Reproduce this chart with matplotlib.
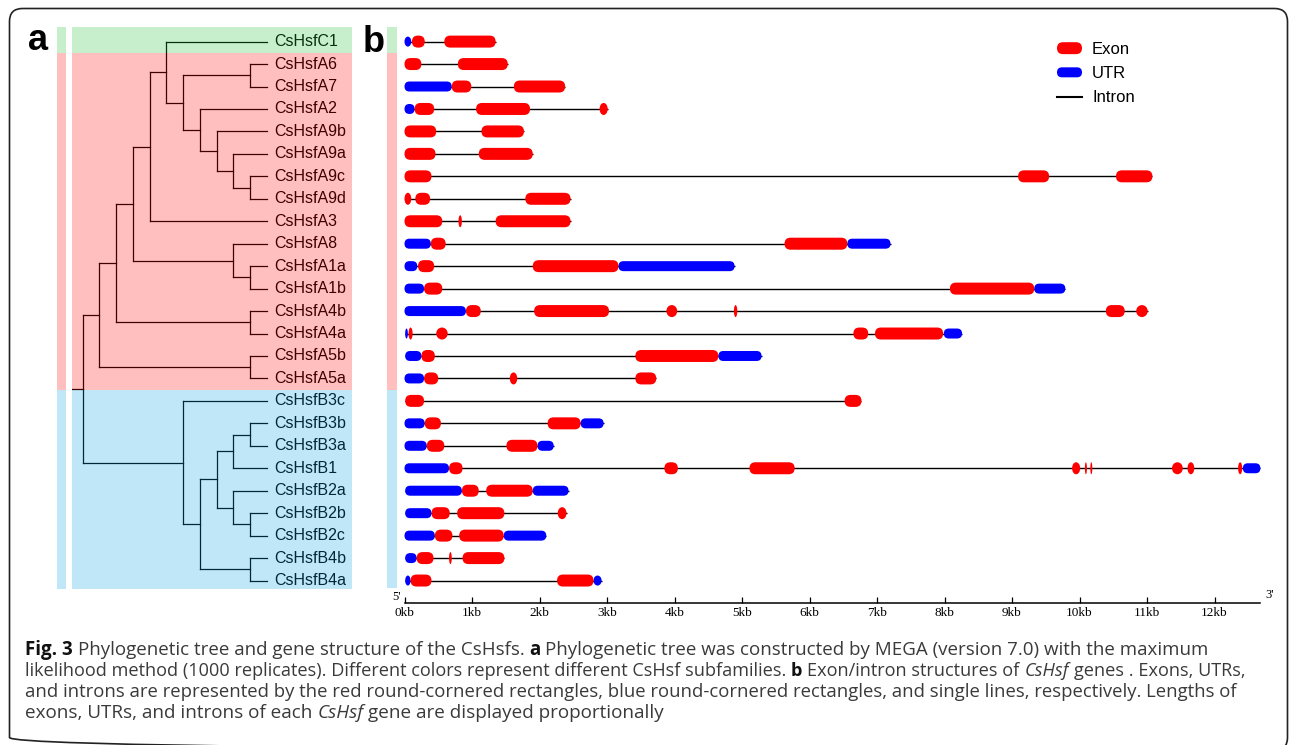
import matplotlib
matplotlib.use("Agg")
import matplotlib.pyplot as plt
from matplotlib.patches import FancyBboxPatch, Ellipse, Patch
from matplotlib.lines import Line2D
from matplotlib.legend_handler import HandlerPatch

# ---- data -------------------------------------------------------------
# tree topology (tips in drawing order follow from it)
tree = (
    (((((("CsHsfC1", (("CsHsfA6", "CsHsfA7"),
                      ("CsHsfA2", ("CsHsfA9b", ("CsHsfA9a", ("CsHsfA9c", "CsHsfA9d")))))),
          "CsHsfA3"),
         ("CsHsfA8", ("CsHsfA1a", "CsHsfA1b"))),
        ("CsHsfA4b", "CsHsfA4a")),
       ("CsHsfA5b", "CsHsfA5a"))),
    ("CsHsfB3c", (((("CsHsfB3b", "CsHsfB3a"), "CsHsfB1"),
                   ("CsHsfB2a", ("CsHsfB2b", "CsHsfB2c"))),
                  ("CsHsfB4b", "CsHsfB4a"))),
)

genes = ["CsHsfC1", "CsHsfA6", "CsHsfA7", "CsHsfA2", "CsHsfA9b", "CsHsfA9a",
         "CsHsfA9c", "CsHsfA9d", "CsHsfA3", "CsHsfA8", "CsHsfA1a", "CsHsfA1b",
         "CsHsfA4b", "CsHsfA4a", "CsHsfA5b", "CsHsfA5a", "CsHsfB3c", "CsHsfB3b",
         "CsHsfB3a", "CsHsfB1", "CsHsfB2a", "CsHsfB2b", "CsHsfB2c", "CsHsfB4b",
         "CsHsfB4a"]

group_sizes = [1, 15, 9]          # C, A, B subfamilies
band_colors = ["#23c337", "#ff0000", "#00a3e3"]

# exon / UTR positions in kb
exons = [
    [(0.11, 0.30), (0.59, 1.35)],
    [(0.0, 0.25), (0.79, 1.53)],
    [(0.70, 0.99), (1.62, 2.38)],
    [(0.15, 0.44), (1.06, 1.86), (2.89, 3.01)],
    [(0.0, 0.47), (1.14, 1.77)],
    [(0.0, 0.46), (1.10, 1.90)],
    [(0.0, 0.40), (9.09, 9.55), (10.54, 11.08)],
    [(0.0, 0.10), (0.16, 0.38), (1.79, 2.46)],
    [(0.0, 0.56), (0.80, 0.85), (1.35, 2.46)],
    [(0.39, 0.61), (5.63, 6.56)],
    [(0.20, 0.44), (1.90, 3.17)],
    [(0.29, 0.56), (8.08, 9.33)],
    [(0.91, 1.13), (1.92, 3.03), (3.88, 4.04), (4.88, 4.93), (10.39, 10.67), (10.84, 11.01)],
    [(0.06, 0.12), (0.47, 0.64), (6.65, 6.87), (6.97, 7.98)],
    [(0.25, 0.45), (3.42, 4.65)],
    [(0.29, 0.50), (1.56, 1.67), (3.42, 3.73)],
    [(0.01, 0.29), (6.52, 6.77)],
    [(0.30, 0.54), (2.12, 2.61)],
    [(0.33, 0.59), (1.51, 1.97)],
    [(0.66, 0.86), (3.85, 4.05), (5.11, 5.78), (9.89, 10.01), (10.08, 10.11),
     (10.16, 10.19), (11.37, 11.53), (11.60, 11.70), (12.35, 12.41)],
    [(0.85, 1.10), (1.21, 1.90)],
    [(0.40, 0.67), (0.78, 1.48), (2.27, 2.40)],
    [(0.45, 0.71), (0.81, 1.47)],
    [(0.18, 0.43), (0.66, 0.70), (0.86, 1.48)],
    [(0.09, 0.40), (2.26, 2.80)],
]
utrs = [
    [(0.0, 0.10)],
    [],
    [(0.0, 0.70)],
    [(0.0, 0.15)],
    [], [], [], [], [],
    [(0.0, 0.39), (6.56, 7.20)],
    [(0.0, 0.19), (3.17, 4.89)],
    [(0.0, 0.29), (9.33, 9.79)],
    [(0.0, 0.91)],
    [(0.01, 0.05), (7.99, 8.26)],
    [(0.01, 0.25), (4.65, 5.29)],
    [(0.0, 0.29)],
    [],
    [(0.0, 0.30), (2.61, 2.95)],
    [(0.0, 0.33), (1.97, 2.21)],
    [(0.0, 0.66), (12.42, 12.68)],
    [(0.01, 0.85), (1.90, 2.43)],
    [(0.01, 0.40)],
    [(0.0, 0.45), (1.47, 2.10)],
    [(0.01, 0.18)],
    [(0.01, 0.09), (2.80, 2.92)],
]
kb_ticks = list(range(13))
scale_end = 12.67

caption = [
    [("Fig. 3", "bold", "normal"), (" Phylogenetic tree and gene structure of the CsHsfs. ", "normal", "normal"),
     ("a", "bold", "normal"), (" Phylogenetic tree was constructed by MEGA (version 7.0) with the maximum", "normal", "normal")],
    [("likelihood method (1000 replicates). Different colors represent different CsHsf subfamilies. ", "normal", "normal"),
     ("b", "bold", "normal"), (" Exon/intron structures of ", "normal", "normal"), ("CsHsf", "normal", "italic"),
     (" genes . Exons, UTRs,", "normal", "normal")],
    [("and introns are represented by the red round-cornered rectangles, blue round-cornered rectangles, and single lines, respectively. Lengths of", "normal", "normal")],
    [("exons, UTRs, and introns of each ", "normal", "normal"), ("CsHsf", "normal", "italic"),
     (" gene are displayed proportionally", "normal", "normal")],
]
caption_ends = [1208, 1243, 1225, 660]

# ---- layout -----------------------------------------------------------
W, H = 1290, 745
fig = plt.figure(figsize=(W / 100, H / 100), dpi=100)
renderer = fig.canvas.get_renderer()

ROW_PX = 22.456
KB_PX = 67.5
TOP_ROW = -0.65
SANS = ["Liberation Sans", "DejaVu Sans"]


def px_axes(x0, y0, x1, y1):
    ax = fig.add_axes([x0 / W, 1 - y1 / H, (x1 - x0) / W, (y1 - y0) / H])
    ax.set_ylim(TOP_ROW + (y1 - y0) / ROW_PX, TOP_ROW)
    return ax


def draw_bands(ax):
    bottom, top = ax.get_ylim()
    start = 0
    n = sum(group_sizes)
    for size, c in zip(group_sizes, band_colors):
        y0 = top if start == 0 else start - 0.5
        y1 = bottom if start + size == n else start + size - 0.5
        ax.axhspan(y0, y1, color=c, alpha=0.25, lw=0, zorder=5)
        start += size


# overlay in pixel units for frame / panel letters / caption
over = fig.add_axes([0, 0, 1, 1])
over.set_xlim(0, W)
over.set_ylim(H, 0)
over.axis("off")
over.add_patch(FancyBboxPatch((9.5, 8.5), 1278, 742, boxstyle="round,pad=0,rounding_size=13",
                              fill=False, ec="#222222", lw=1.2, clip_on=True))
over.text(38, 41, "a", fontsize=26, fontweight="bold", family=SANS, ha="center", va="center")
over.text(374, 43, "b", fontsize=26, fontweight="bold", family=SANS, ha="center", va="center")
over.text(396.5, 597, "5'", fontsize=9, family="Liberation Serif", ha="center", va="center")
over.text(1270, 595, "3'", fontsize=9, family="Liberation Serif", ha="center", va="center")

# ---- panel a: tree ----------------------------------------------------
ax_t = px_axes(72, 27, 352, 589)
ax_t.set_xlim(-0.64, 16.10)
ax_t.axis("off")

tip_level = 11
tips = []


def height(node):
    if isinstance(node, str):
        return 0
    return 1 + max(height(c) for c in node)


def layout(node):
    if isinstance(node, str):
        tips.append(node)
        return tip_level, len(tips) - 1
    pts = [layout(c) for c in node]
    x = tip_level - height(node)
    ys = [p[1] for p in pts]
    ax_t.plot([x, x], [min(ys), max(ys)], color="black", lw=0.9, zorder=1)
    for cx, cy in pts:
        ax_t.plot([x, cx], [cy, cy], color="black", lw=0.9, zorder=1)
    return x, (min(ys) + max(ys)) / 2


root_x, root_y = layout(tree)
ax_t.plot([ax_t.get_xlim()[0], root_x], [root_y, root_y], color="black", lw=0.9, zorder=1)
for i, name in enumerate(tips):
    ax_t.annotate(name, (tip_level, i), xytext=(5.2, 0), textcoords="offset points",
                  va="center", ha="left", fontsize=11.5, family=SANS, zorder=2)
draw_bands(ax_t)

ax_s = px_axes(57, 27, 65.7, 589)
ax_s.set_xlim(0, 1)
ax_s.axis("off")
draw_bands(ax_s)

ax_s2 = px_axes(387, 27, 396.7, 588)
ax_s2.set_xlim(0, 1)
ax_s2.axis("off")
draw_bands(ax_s2)

# ---- panel b: gene structures -----------------------------------------
x_left, x_right, zero_px = 398, 1285, 404.5
ax_g = px_axes(x_left, 27, x_right, 603)
ax_g.set_xlim((x_left - zero_px) / KB_PX, (x_right - zero_px) / KB_PX)
aspect = KB_PX / ROW_PX


def draw_part(a, b, row, h_px, color):
    w = b - a
    r = h_px / 2 / KB_PX
    h = h_px / ROW_PX
    if w <= 2 * r:
        ax_g.add_patch(Ellipse(((a + b) / 2, row), w, h, fc=color, ec="none", zorder=3))
    else:
        ax_g.add_patch(FancyBboxPatch((a, row - h / 2), w, h,
                                      boxstyle=f"round,pad=0,rounding_size={r}",
                                      mutation_aspect=aspect, fc=color, ec="none", zorder=3))


for row, (ex, ut) in enumerate(zip(exons, utrs)):
    parts = ex + ut
    start = min(p[0] for p in parts)
    end = max(p[1] for p in parts)
    ax_g.plot([start, end], [row, row], color="black", lw=1.0, zorder=2, solid_capstyle="butt")
    for a, b in ut:
        draw_part(a, b, row, 10, "#0000ff")
    for a, b in ex:
        draw_part(a, b, row, 12, "#ff0000")

for s in ["top", "left", "right"]:
    ax_g.spines[s].set_visible(False)
ax_g.patch.set_visible(False)
ax_g.spines["bottom"].set_bounds(0, scale_end)
ax_g.spines["bottom"].set_linewidth(1.1)
ax_g.set_yticks([])
ax_g.set_xticks(kb_ticks)
ax_g.set_xticklabels([f"{k}kb" for k in kb_ticks], fontsize=9.5, family="Liberation Serif")
ax_g.tick_params(axis="x", direction="in", length=4, width=0.9, pad=3)


class HandlerPill(HandlerPatch):
    def __init__(self, h):
        super().__init__()
        self.h = h

    def create_artists(self, legend, orig_handle, xdescent, ydescent, width, height, fontsize, trans):
        y0 = -ydescent + (height - self.h) / 2
        p = FancyBboxPatch((-xdescent, y0), width, self.h,
                           boxstyle=f"round,pad=0,rounding_size={self.h / 2}",
                           fc=orig_handle.get_facecolor(), ec="none", transform=trans)
        return [p]


exon_h = Patch(facecolor="#ff0000")
utr_h = Patch(facecolor="#0000ff")
intron_h = Line2D([], [], color="black", lw=1.5)
ax_g.legend([exon_h, utr_h, intron_h], ["Exon", "UTR", "Intron"],
            handler_map={exon_h: HandlerPill(8.6), utr_h: HandlerPill(7.2)},
            loc="upper left", bbox_to_anchor=(1057 / W, 1 - 42 / H), bbox_transform=fig.transFigure,
            frameon=False, borderpad=0, borderaxespad=0, handlelength=1.5, handletextpad=0.6,
            labelspacing=0.55, prop={"family": SANS, "size": 12})

# ---- caption ----------------------------------------------------------
cap_font = "Open Sans"


def text_width(s, size, weight, style):
    t = fig.text(0, 0, s, fontsize=size, family=cap_font, fontweight=weight, fontstyle=style)
    w = t.get_window_extent(renderer).width
    t.remove()
    return w


def space_width(size):
    return text_width("a a", size, "normal", "normal") - text_width("aa", size, "normal", "normal")


def line_width(pieces, size):
    sp = space_width(size)
    total = 0
    for s, wgt, sty in pieces:
        lead = len(s) - len(s.lstrip(" "))
        trail = len(s) - len(s.rstrip(" "))
        total += (lead + trail) * sp + text_width(s.strip(" "), size, wgt, sty)
    return total


base = 12
x_start = 25
baselines = [655, 676, 697, 718]
for pieces, yb, x_end in zip(caption, baselines, caption_ends):
    size = base * (x_end - x_start) / line_width(pieces, base)
    sp = space_width(size)
    x = x_start
    for s, wgt, sty in pieces:
        lead = len(s) - len(s.lstrip(" "))
        trail = len(s) - len(s.rstrip(" "))
        x += lead * sp
        core = s.strip(" ")
        over.text(x, yb, core, fontsize=size, family=cap_font, fontweight=wgt, fontstyle=sty,
                  color="#111111" if wgt == "bold" else "#3a3a3a", ha="left", va="baseline")
        x += text_width(core, size, wgt, sty) + trail * sp

fig.savefig("out.png", dpi=100)
